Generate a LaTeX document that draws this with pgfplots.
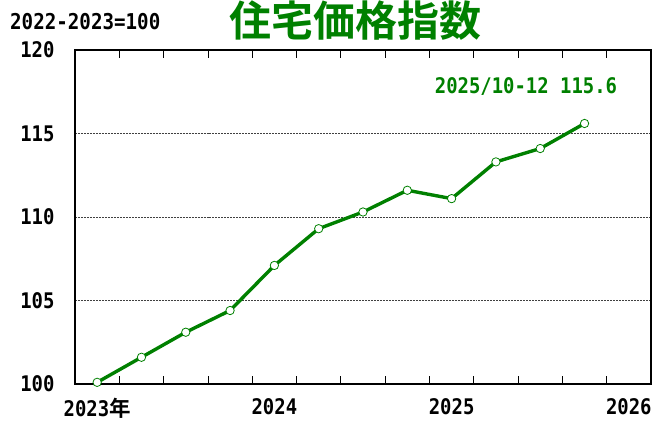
\documentclass[border=0pt]{standalone}
\usepackage{fontspec}
\usepackage{pgfplots}
\pgfplotsset{compat=1.18}
\setmainfont{DejaVu Sans Mono}[FakeStretch=0.88]
\newfontfamily\cjk{Noto Sans CJK JP}[BoldFont={* Bold}]
\definecolor{grn}{RGB}{0,128,0}
\begin{document}
\begin{tikzpicture}
\path[use as bounding box] (0bp,0bp) rectangle (652bp,423bp);
\begin{axis}[
  at={(75bp,39bp)}, anchor=south west,
  width=576bp, height=334bp, scale only axis,
  xmin=0, xmax=13, ymin=100, ymax=120,
  clip=false,
  axis line style={line width=1.3pt},
  xtick={1,...,12}, xticklabels={},
  tick align=inside,
  major tick length=8bp,
  tick style={black, line width=0.8pt},
  extra x ticks={0.5,4.5,8.5,12.5},
  extra x tick labels={2023{\cjk\bfseries 年},2024,2025,2026},
  extra x tick style={major tick length=0pt},
  ytick={100,105,110,115,120},
  ytick style={draw=none},
  ymajorgrids,
  grid style={gray!50!black, line width=0.7pt, dash pattern=on 2pt off 1pt},
  /pgf/number format/assume math mode=true,
  ticklabel style={font=\bfseries\fontsize{21.5bp}{24bp}\selectfont},
  yticklabel style={xshift=-17bp},
  xticklabel style={yshift=-11bp},
]
\addplot[grn, line width=3.4pt, mark=*, mark size=4.2pt,
  mark options={fill=white, draw=grn, line width=0.8pt}]
  coordinates {
  (0.5,100.1) (1.5,101.6) (2.5,103.1) (3.5,104.4)
  (4.5,107.1) (5.5,109.3) (6.5,110.3) (7.5,111.6)
  (8.5,111.1) (9.5,113.3) (10.5,114.1) (11.5,115.6)
  };
\end{axis}
\node[anchor=west, font=\bfseries\fontsize{21.8bp}{24bp}\selectfont, inner sep=0pt] at (10bp,401bp) {2022-2023=100};
\node[text=grn, font=\cjk\bfseries\fontsize{42bp}{46bp}\selectfont, inner sep=0pt] at (355bp,402bp) {住宅価格指数};
\node[text=grn, font=\bfseries\fontsize{21.5bp}{24bp}\selectfont, inner sep=0pt] at (526bp,336bp) {2025/10-12 115.6};
\end{tikzpicture}
\end{document}
